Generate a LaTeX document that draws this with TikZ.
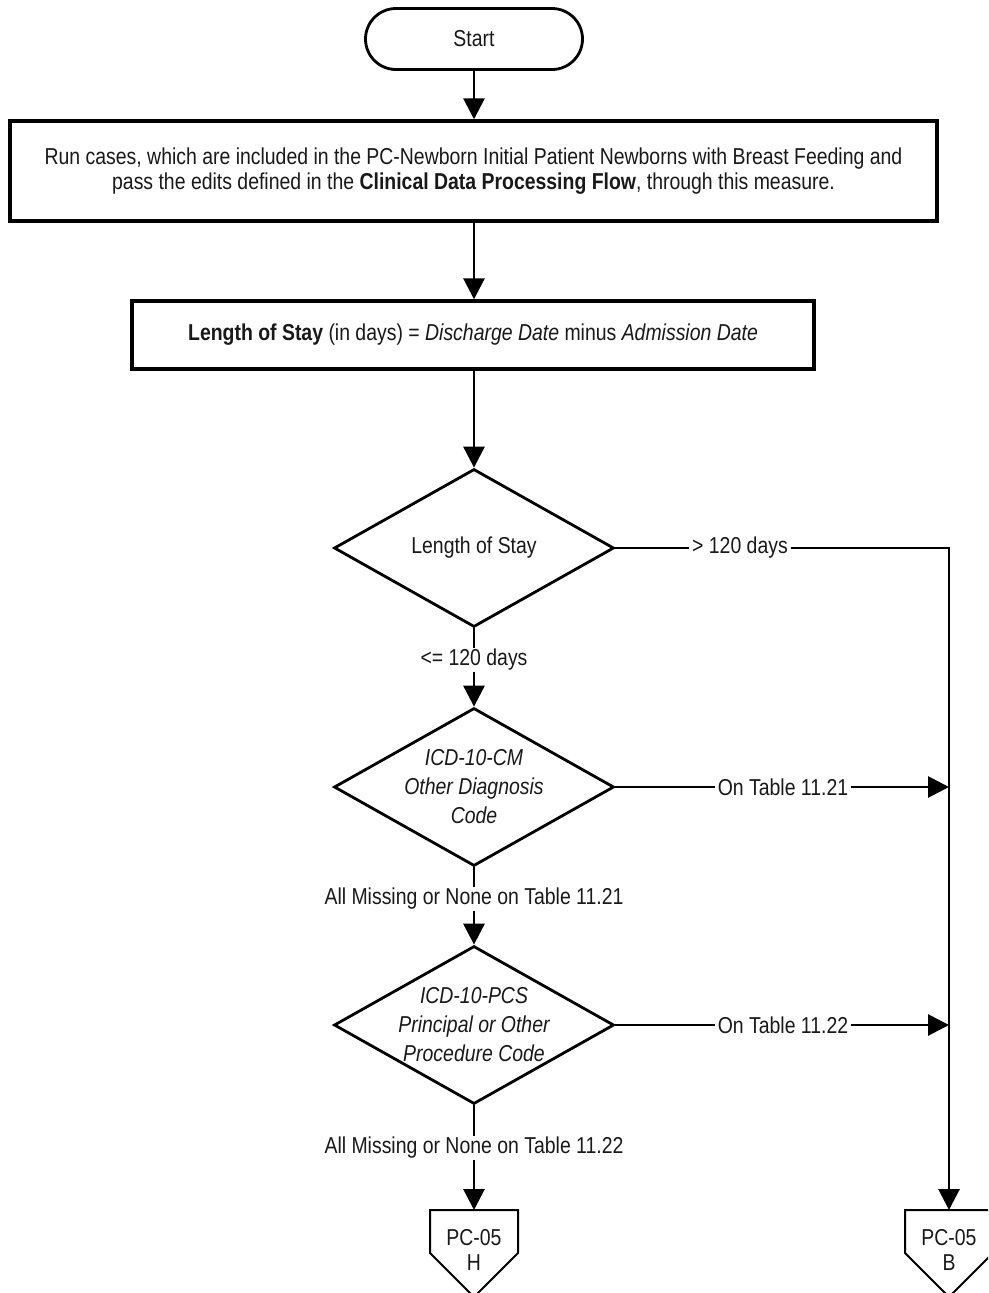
\documentclass[tikz,border=0pt]{standalone}
\usepackage{fontspec}
\setmainfont{Liberation Sans}[FakeStretch=0.845]
\usetikzlibrary{arrows.meta,shapes.geometric,shapes.misc,calc}
\begin{document}
\begin{tikzpicture}[x=1pt,y=-1pt,
  every node/.style={font=\fontsize{23}{25}\selectfont, text=black!90},
  conn/.style={line width=2.9pt, draw=black, line join=miter},
  arrow/.style={conn, -{Triangle[length=21pt,width=21pt]}},
  terminal/.style={rounded rectangle, draw=black, line width=2.8pt,
    minimum width=217, minimum height=61, inner sep=0pt},
  procbox/.style={rectangle, draw=black, line width=3.4pt, inner sep=0pt, align=center},
  decision/.style={diamond, draw=black, line width=2.8pt,
    minimum width=280, minimum height=158, inner sep=0pt},
  dtext/.style={align=center, font=\fontsize{23}{29}\selectfont},
  lbl/.style={fill=white, inner xsep=3pt, inner ysep=1pt},
  offline/.style={draw=black, line width=2pt, line join=miter},
  offtext/.style={align=center, inner sep=0pt}
]
% canvas
\useasboundingbox (0,0) rectangle (988,1293);
\clip (0,0) rectangle (988,1293);
\fill[white] (0,0) rectangle (988,1293);

% main column
\node[terminal] (start) at (474,39) {Start};
\node[procbox, minimum width=927, minimum height=100] (run) at (473.5,171)
  {Run cases, which are included in the PC-Newborn Initial Patient Newborns with Breast Feeding and\\
   pass the edits defined in the \textbf{Clinical Data Processing Flow}, through this measure.};
\node[procbox, minimum width=682, minimum height=68] (los) at (473,335)
  {\textbf{Length of Stay} (in days) = \textit{Discharge Date} minus \textit{Admission Date}};

\node[decision] (d1) at (474,548) {};
\node[dtext] (d1t) at (d1.center) {Length of Stay};
\node[decision] (d2) at (474,787) {};
\node[dtext, font=\fontsize{23}{29}\selectfont\itshape] (d2t) at (d2.center)
  {ICD-10-CM\\Other Diagnosis\\Code};
\node[decision] (d3) at (474,1025) {};
\node[dtext, font=\fontsize{23}{29}\selectfont\itshape] (d3t) at (d3.center)
  {ICD-10-PCS\\Principal or Other\\Procedure Code};

% branch labels
\node[lbl] (le) at (474,660) {<= 120 days};
\node[lbl] (gt) at (740,548) {> 120 days};
\node[lbl] (t21) at (783,787) {On Table 11.21};
\node[lbl] (t22) at (783,1025) {On Table 11.22};
\node[lbl] (m21) at (474,899) {All Missing or None on Table 11.21};
\node[lbl] (m22) at (474,1148) {All Missing or None on Table 11.22};

% off-page connectors
\coordinate (pchtop) at (474,1210);
\coordinate (pcbtop) at (949,1210);
\draw[offline] ($(pchtop)+(-44,0)$) -- ++(88,0) -- ++(0,43) -- ++(-44,44) -- ++(-44,-44) -- cycle;
\draw[offline] ($(pcbtop)+(-44,0)$) -- ++(88,0) -- ++(0,43) -- ++(-44,44) -- ++(-44,-44) -- cycle;
\node[offtext] (pch) at (474,1250) {PC-05\\H};
\node[offtext] (pcb) at (949,1250) {PC-05\\B};

% flow
\draw[arrow] (start.south) -- (start.south |- run.north);
\draw[arrow] (run.south -| start.south) -- (start.south |- los.north);
\draw[arrow] (los.south -| start.south) -- (d1.north);
\draw[conn] (d1.south) -- (le);
\draw[arrow] (le) -- (d2.north);
\draw[conn] (d2.south) -- (m21);
\draw[arrow] (m21) -- (d3.north);
\draw[conn] (d3.south) -- (m22);
\draw[arrow] (m22) -- (pchtop);

% right-hand branch
\draw[conn] (d1.east) -- (gt);
\draw[arrow] (gt.east) -- (gt.east -| pcbtop) -- (pcbtop);
\draw[conn] (d2.east) -- (t21);
\draw[arrow] (t21.east) -- (t21.east -| pcbtop);
\draw[conn] (d3.east) -- (t22);
\draw[arrow] (t22.east) -- (t22.east -| pcbtop);
\end{tikzpicture}
\end{document}
